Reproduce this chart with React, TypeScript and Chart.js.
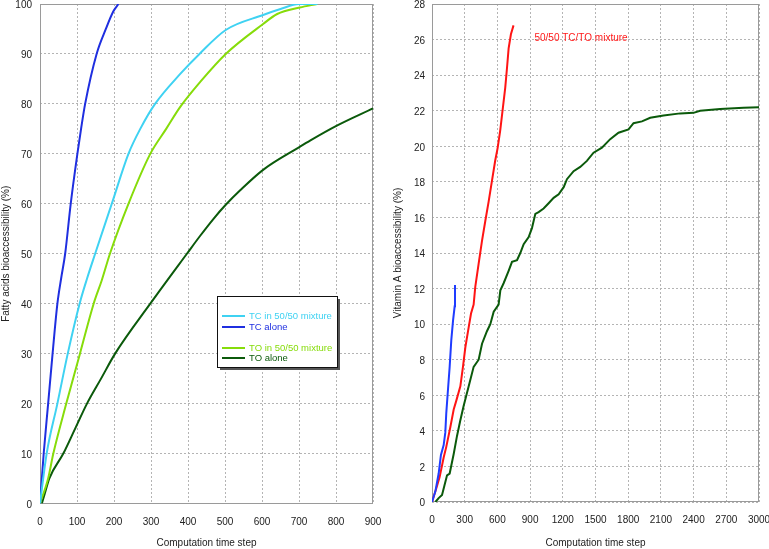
import React, { useEffect, useRef } from "react";
import { Chart, registerables } from "chart.js";

Chart.register(...registerables);

const FONT_FAMILY = '"Liberation Sans", Arial, sans-serif';
const TEXT_COLOR = "#222";
const GRID_COLOR = "#b4b4b4";

// ---------- Left chart: fatty acids bioaccessibility ----------
const tcMixX = [0, 18, 47, 75, 107, 127, 149, 194, 239, 271, 311, 379, 431, 502, 603, 650, 700, 750];
const tcMixY = [0, 10, 20, 30, 40, 45, 50, 60, 70, 75, 80, 86, 90, 94.8, 97.8, 99, 100, 100];

const tcAloneX = [0, 10, 22, 34, 47, 57, 68, 83, 101, 111, 122, 153, 178, 198, 212];
const tcAloneY = [0, 10, 20, 30, 40, 45, 50, 60, 70, 75, 80, 90, 95, 98.5, 100];

const toMixX = [0, 22, 36, 71, 108, 145, 167, 189, 239, 298, 341, 379, 433, 502, 603, 641, 702, 749];
const toMixY = [0, 5, 10, 20, 30, 40, 44.7, 50, 60, 70, 75, 79.4, 84.4, 90, 96, 98, 99.3, 100];

const toAloneX = [5, 13, 25, 63, 95, 127, 165, 203, 298, 397, 433, 469, 502, 541, 603, 702, 731, 801, 900];
const toAloneY = [0, 2, 5, 10, 15, 20, 25, 30, 40, 50, 53.6, 57, 59.8, 62.7, 66.8, 71.4, 72.7, 75.6, 79.1];

const leftLabels = ["TC in 50/50 mixture", "TC alone", "TO in 50/50 mixture", "TO alone"];

// ---------- Right chart: vitamin A bioaccessibility ----------
const vaTcX = [0, 31, 61, 82, 107, 122, 131, 144, 162, 177, 193, 208, 211];
const vaTcY = [0, 0.6, 1.6, 2.65, 3.2, 3.9, 5.0, 6.1, 7.6, 9.1, 10.2, 11.0, 12.2];

const vaMixX = [0, 46, 70, 107, 131, 168, 199, 223, 260, 284, 306, 336, 358, 382, 397, 428, 459, 489, 520, 550, 580, 602, 626, 651, 672, 688, 703, 724, 748];
const vaMixY = [0, 0.9, 1.4, 2.5, 3.1, 4.2, 5.2, 5.7, 6.5, 7.6, 8.7, 9.8, 10.6, 11.1, 12.1, 13.4, 14.7, 15.8, 16.9, 18.06, 19.2, 19.9, 20.9, 22.2, 23.3, 24.4, 25.5, 26.3, 26.8];

const vaToX = [31, 61, 92, 113, 138, 162, 199, 229, 260, 290, 336, 382, 428, 459, 504, 535, 566, 611, 627, 657, 703, 734, 780, 810, 841, 887, 917, 948, 978, 1024, 1070, 1116, 1162, 1208, 1238, 1299, 1360, 1421, 1482, 1559, 1635, 1711, 1803, 1849, 1926, 2002, 2124, 2277, 2399, 2460, 2644, 2858, 3000];
const vaToY = [0, 0.22, 0.4, 0.9, 1.5, 1.6, 2.7, 3.7, 4.6, 5.4, 6.5, 7.6, 8.0, 8.9, 9.6, 10.0, 10.7, 11.1, 11.9, 12.3, 13.0, 13.5, 13.6, 14.0, 14.5, 14.9, 15.4, 16.2, 16.3, 16.5, 16.8, 17.1, 17.3, 17.7, 18.15, 18.6, 18.84, 19.18, 19.64, 19.92, 20.4, 20.76, 20.95, 21.3, 21.4, 21.6, 21.73, 21.85, 21.88, 22.0, 22.1, 22.16, 22.2];

const mixtureNote = "50/50 TC/TO mixture";
const mixtureNoteAt = { x: 940, y: 26.1 };

function zip(xs: number[], ys: number[]) {
  return xs.map((x, i) => ({ x, y: ys[i] }));
}

const framePlugin = {
  id: "frame",
  beforeDatasetsDraw(chart: any) {
    const { ctx, chartArea: a } = chart;
    ctx.save();
    ctx.strokeStyle = "#9a9a9a";
    ctx.lineWidth = 1;
    ctx.strokeRect(
      Math.round(a.left) + 0.5,
      Math.round(a.top) + 0.5,
      Math.round(a.right - a.left) - 1,
      Math.round(a.bottom - a.top) - 1
    );
    ctx.restore();
  },
};

const legendBoxPlugin = {
  id: "legendBox",
  afterDatasetsDraw(chart: any) {
    const { ctx, chartArea: a } = chart;
    const x0 = a.left + 177;
    const y0 = a.top + 292;
    const w = 120;
    const h = 71;
    ctx.save();
    ctx.fillStyle = "#555";
    ctx.fillRect(x0 + 3, y0 + 3, w, h);
    ctx.fillStyle = "#fff";
    ctx.fillRect(x0, y0, w, h);
    ctx.strokeStyle = "#111";
    ctx.lineWidth = 1;
    ctx.strokeRect(x0 + 0.5, y0 + 0.5, w, h);
    const rows = [20, 31, 52, 62];
    ctx.font = `9.5px ${FONT_FAMILY}`;
    ctx.textBaseline = "middle";
    ctx.textAlign = "left";
    chart.data.datasets.forEach((ds: any, i: number) => {
      const y = y0 + rows[i];
      ctx.strokeStyle = ds.borderColor;
      ctx.lineWidth = 2;
      ctx.beginPath();
      ctx.moveTo(x0 + 5, y);
      ctx.lineTo(x0 + 28, y);
      ctx.stroke();
      ctx.fillStyle = ds.borderColor;
      ctx.fillText(ds.label, x0 + 32, y);
    });
    ctx.restore();
  },
};

const notePlugin = {
  id: "note",
  afterDatasetsDraw(chart: any) {
    const { ctx, scales } = chart;
    ctx.save();
    ctx.font = `10px ${FONT_FAMILY}`;
    ctx.fillStyle = "#ff1a1a";
    ctx.textBaseline = "middle";
    ctx.textAlign = "left";
    ctx.fillText(mixtureNote, scales.x.getPixelForValue(mixtureNoteAt.x), scales.y.getPixelForValue(mixtureNoteAt.y));
    ctx.restore();
  },
};

function buildOptions(cfg: any) {
  const font = { family: FONT_FAMILY, size: 10 };
  return {
    responsive: false,
    animation: false,
    layout: { padding: { left: 0, right: cfg.padRight, top: cfg.padTop, bottom: 0 } },
    plugins: { legend: { display: false }, tooltip: { enabled: false } },
    elements: { point: { radius: 0 }, line: { borderWidth: 2, tension: 0 } },
    scales: {
      x: {
        type: "linear",
        min: 0,
        max: cfg.xMax,
        ticks: {
          stepSize: cfg.xStep,
          font,
          color: TEXT_COLOR,
          padding: cfg.xTickPad,
          maxRotation: 0,
          autoSkip: false,
          callback: (v: any) => String(v),
        },
        grid: { color: GRID_COLOR, lineWidth: 1, drawTicks: false },
        border: { display: false, dash: [2, 2] },
        title: { display: true, text: "Computation time step", font, color: TEXT_COLOR, padding: { top: 0, bottom: 0 } },
        afterFit: (s: any) => {
          s.height = cfg.xAxisH;
          s.paddingLeft = 0;
          s.paddingRight = 0;
        },
      },
      y: {
        type: "linear",
        min: 0,
        max: cfg.yMax,
        ticks: {
          stepSize: cfg.yStep,
          font,
          color: TEXT_COLOR,
          padding: cfg.yTickPad,
          labelOffset: 1.5,
          callback: (v: any) => String(v),
        },
        grid: { color: GRID_COLOR, lineWidth: 1, drawTicks: false },
        border: { display: false, dash: [2, 2] },
        title: { display: true, text: cfg.yTitle, font, color: TEXT_COLOR, padding: { top: cfg.yTitlePad, bottom: 0 } },
        afterFit: (s: any) => {
          s.width = cfg.yAxisW;
          s.paddingTop = 0;
          s.paddingBottom = 0;
        },
      },
    },
  };
}

export default function App() {
  const leftRef = useRef<HTMLCanvasElement>(null);
  const rightRef = useRef<HTMLCanvasElement>(null);

  useEffect(() => {
    const smooth = { cubicInterpolationMode: "monotone" as const };
    const left = new Chart(leftRef.current as HTMLCanvasElement, {
      type: "line",
      data: {
        datasets: [
          { label: leftLabels[0], data: zip(tcMixX, tcMixY), borderColor: "#3fd2f2", ...smooth },
          { label: leftLabels[1], data: zip(tcAloneX, tcAloneY), borderColor: "#1f2fe0", ...smooth },
          { label: leftLabels[2], data: zip(toMixX, toMixY), borderColor: "#86dc0a", ...smooth },
          { label: leftLabels[3], data: zip(toAloneX, toAloneY), borderColor: "#0b5a0b", ...smooth },
        ],
      },
      options: buildOptions({
        xMax: 900,
        xStep: 100,
        yMax: 100,
        yStep: 10,
        yTitle: "Fatty acids bioaccessibility (%)",
        padRight: 12,
        padTop: 4,
        xAxisH: 45.5,
        yAxisW: 40,
        xTickPad: 13,
        yTickPad: 8,
        yTitlePad: 0,
      }) as any,
      plugins: [framePlugin, legendBoxPlugin],
    });

    const right = new Chart(rightRef.current as HTMLCanvasElement, {
      type: "line",
      data: {
        datasets: [
          { label: "TC", data: zip(vaTcX, vaTcY), borderColor: "#1f3cff" },
          { label: "Mixture", data: zip(vaMixX, vaMixY), borderColor: "#ff1414" },
          { label: "TO", data: zip(vaToX, vaToY), borderColor: "#0b5a0b" },
        ],
      },
      options: buildOptions({
        xMax: 3000,
        xStep: 300,
        yMax: 28,
        yStep: 2,
        yTitle: "Vitamin A bioaccessibility (%)",
        padRight: 10,
        padTop: 4,
        xAxisH: 47,
        yAxisW: 47,
        xTickPad: 12,
        yTickPad: 7,
        yTitlePad: 7,
      }) as any,
      plugins: [framePlugin, notePlugin],
    });

    return () => {
      left.destroy();
      right.destroy();
    };
  }, []);

  return (
    <div style={{ position: "absolute", left: 0, top: 0, width: 769, height: 549, background: "#fff" }}>
      <canvas ref={leftRef} width={385} height={549} style={{ position: "absolute", left: 0, top: 0, width: 385, height: 549 }} />
      <canvas ref={rightRef} width={384} height={549} style={{ position: "absolute", left: 385, top: 0, width: 384, height: 549 }} />
    </div>
  );
}
